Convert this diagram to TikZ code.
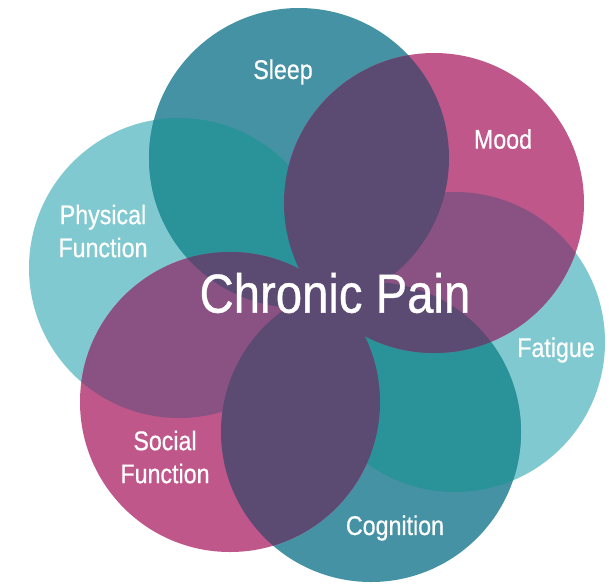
\documentclass[tikz,border=0pt]{standalone}
\usepackage{fontspec}
\setmainfont{Liberation Sans}[FakeStretch=0.86, FakeBold=0.6]
\definecolor{sleepteal}{HTML}{4592A4}
\definecolor{lightteal}{HTML}{80C9D0}
\definecolor{pinkish}{HTML}{C0578A}
\definecolor{deepteal}{HTML}{2A9399}
\definecolor{mutedpurple}{HTML}{8A5283}
\definecolor{darkpurple}{HTML}{5B4A72}
\begin{document}
\begin{tikzpicture}[x=1pt, y=-1pt,
    label/.style={text=white, font=\fontsize{27}{33}\selectfont, align=center}]
    \useasboundingbox (0,0) rectangle (610,584);
    \def\rad{150}

    \coordinate (sleep) at (299,158);
    \coordinate (mood) at (434,203);
    \coordinate (fatigue) at (455,342);
    \coordinate (cognition) at (371,432);
    \coordinate (social) at (230,402);
    \coordinate (physical) at (179,268);

    \fill[lightteal] (physical) circle (\rad) (fatigue) circle (\rad);
    \fill[sleepteal] (sleep) circle (\rad) (cognition) circle (\rad);
    \fill[pinkish] (mood) circle (\rad) (social) circle (\rad);

    % teal on light teal
    \begin{scope}
        \clip (sleep) circle (\rad);
        \fill[deepteal] (physical) circle (\rad);
    \end{scope}
    \begin{scope}
        \clip (cognition) circle (\rad);
        \fill[deepteal] (fatigue) circle (\rad);
    \end{scope}
    % pink on light teal
    \begin{scope}
        \clip (mood) circle (\rad);
        \fill[mutedpurple] (fatigue) circle (\rad);
    \end{scope}
    \begin{scope}
        \clip (social) circle (\rad);
        \fill[mutedpurple] (physical) circle (\rad);
    \end{scope}
    % pink on teal
    \foreach \a in {mood, social}
        \foreach \b in {sleep, cognition} {
            \begin{scope}
                \clip (\a) circle (\rad);
                \fill[darkpurple] (\b) circle (\rad);
            \end{scope}
        }

    \node[label] (sleeplabel) at (283,72) {Sleep};
    \node[label] (moodlabel) at (503,139) {Mood};
    \node[label] (physicallabel) at (103,231) {Physical\\Function};
    \node[label] (fatiguelabel) at (556,350) {Fatigue};
    \node[label] (sociallabel) at (165,457) {Social\\Function};
    \node[label] (cognitionlabel) at (395,528) {Cognition};
    \node[text=white, font=\fontsize{55}{60}\selectfont] (pain) at (335,293) {Chronic Pain};
\end{tikzpicture}
\end{document}
